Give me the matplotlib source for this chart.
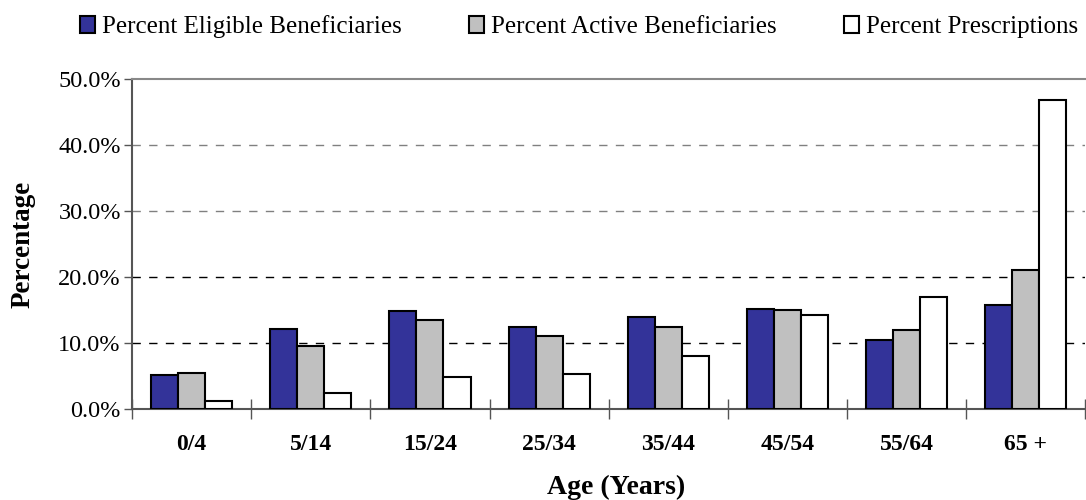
import matplotlib.pyplot as plt
import numpy as np

plt.rcParams['font.family'] = ['Liberation Serif', 'DejaVu Serif']

# age groups and the three series (percent)
age_groups = ['0/4', '5/14', '15/24', '25/34', '35/44', '45/54', '55/64', '65 +']
eligible = [5.2, 12.1, 14.8, 12.4, 13.9, 15.2, 10.4, 15.8]
active = [5.4, 9.6, 13.5, 11.0, 12.4, 15.0, 11.9, 21.0]
prescriptions = [1.2, 2.4, 4.8, 5.3, 8.0, 14.2, 17.0, 46.8]

series_names = ['Percent Eligible Beneficiaries', 'Percent Active Beneficiaries',
                'Percent Prescriptions']
colours = ['#333399', '#c0c0c0', '#ffffff']

fig = plt.figure(figsize=(10.86, 5.0), dpi=100)
ax = fig.add_axes([0.1215, 0.182, 0.878, 0.66])

x = np.arange(len(age_groups))
w = 0.227
for k, (vals, col, name) in enumerate(zip([eligible, active, prescriptions], colours, series_names)):
    ax.bar(x + (k - 1) * w, vals, width=w, color=col, edgecolor='black',
           linewidth=1.5, label=name, zorder=3)

ax.set_xlim(-0.5, len(age_groups) - 0.5)
ax.set_ylim(0, 50)
ax.set_yticks(np.arange(0, 51, 10))
ax.set_yticklabels(['%.1f%%' % v for v in np.arange(0, 51, 10)], fontsize=17.5)

# grid lines: dashed
for v, c in zip([10, 20, 30, 40], ['#000000', '#000000', '#808080', '#808080']):
    ax.axhline(v, color=c, linestyle=(0, (6, 6)), linewidth=1.0, zorder=1)

# category boundaries as major ticks, labels on minor ticks
ax.set_xticks(np.arange(-0.5, len(age_groups), 1.0))
ax.set_xticklabels([])
ax.set_xticks(x, minor=True)
ax.set_xticklabels(age_groups, minor=True, fontsize=17, fontweight='bold')
ax.tick_params(axis='x', which='major', direction='inout', length=14, width=1, color='#555555')
ax.tick_params(axis='x', which='minor', length=0, pad=18)
ax.tick_params(axis='y', direction='out', length=6, width=1, color='#555555', pad=2)

for s in ['left', 'bottom']:
    ax.spines[s].set_color('#555555')
    ax.spines[s].set_linewidth(1.5)
ax.spines['top'].set_color('#888888')
ax.spines['top'].set_linewidth(1.5)
ax.spines['right'].set_visible(False)

fig.text(0.021, 0.512, 'Percentage', rotation=90, ha='center', va='center',
         fontsize=19.5, fontweight='bold')
fig.text(0.567, 0.026, 'Age (Years)', ha='center', va='center',
         fontsize=20, fontweight='bold')

fig.legend(loc='center', bbox_to_anchor=(0.533, 0.946), ncol=3, frameon=False,
           fontsize=18, handlelength=0.62, handleheight=0.65, handletextpad=0.25,
           columnspacing=2.7, borderaxespad=0)

fig.savefig('out.png', dpi=100)
